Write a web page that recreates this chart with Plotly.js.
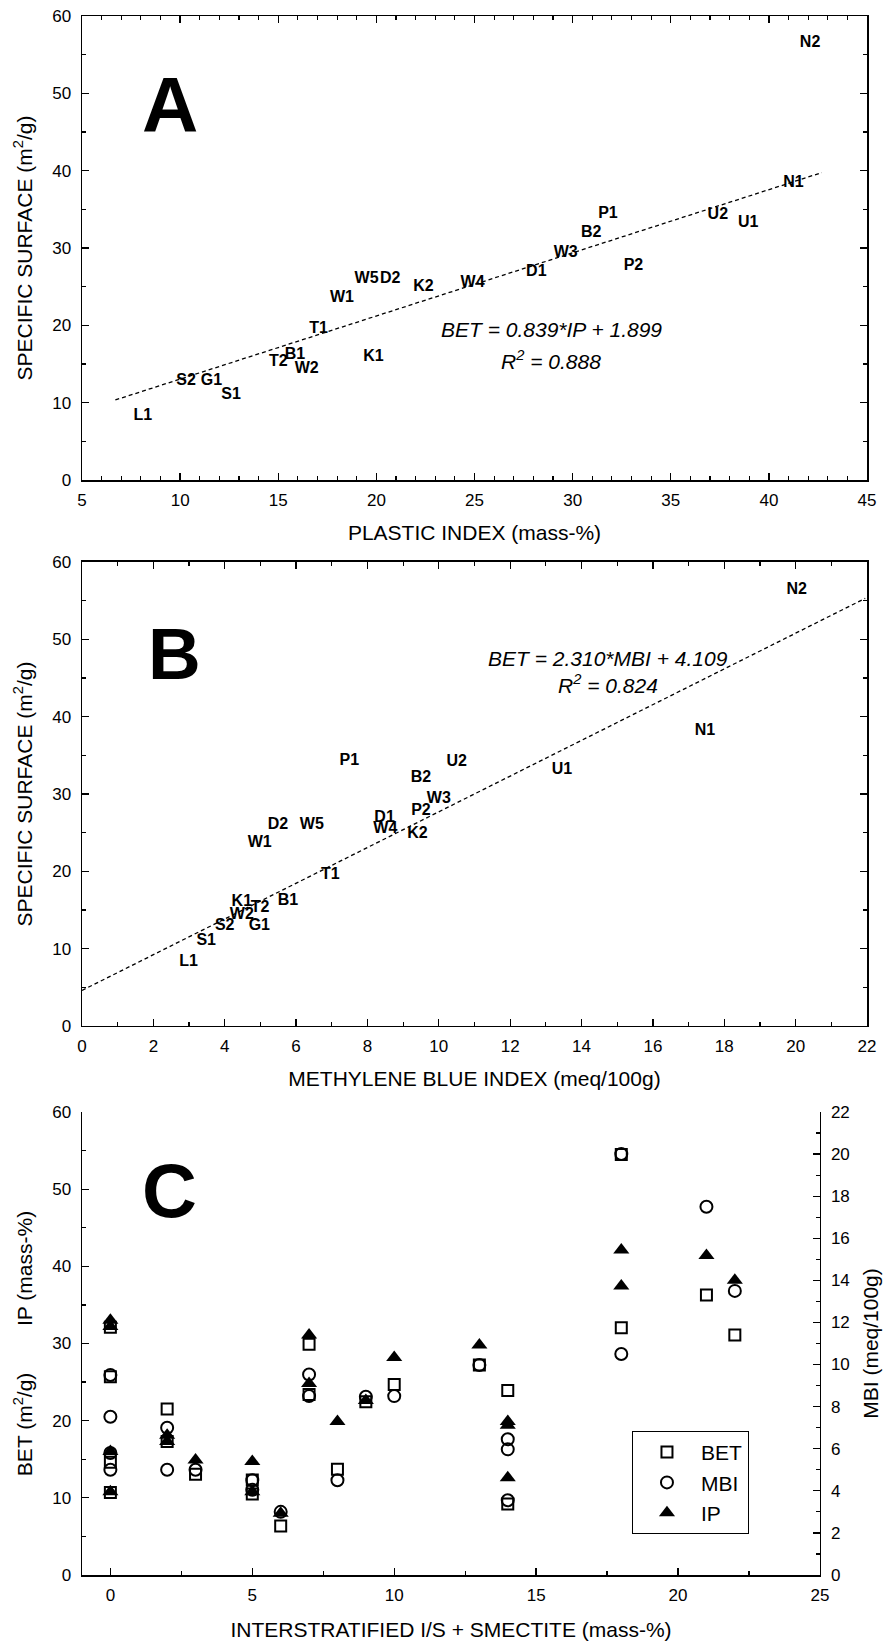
<!DOCTYPE html>
<html>
<head>
<meta charset="utf-8">
<script src="https://cdn.plot.ly/plotly-3.0.1.min.js"></script>
<style>html,body{margin:0;padding:0;background:#fff;}</style>
</head>
<body>
<div id="chart" style="width:887px;height:1641px;"></div>
<script>
// ---------- Panel A: specific surface vs plastic index ----------
var labelsA = ['L1','S2','G1','S1','T2','B1','W2','T1','W1','W5','D2','K1','K2','W4','D1','W3','B2','P1','P2','U2','U1','N1','N2'];
var ipA  = [8.1, 10.3, 11.6, 12.6, 15.0, 15.85, 16.45, 17.05, 18.25, 19.5, 20.7, 19.85, 22.4, 24.9, 28.15, 29.65, 30.95, 31.8, 33.1, 37.4, 38.95, 41.25, 42.1];
var betA = [8.3, 12.8, 12.8, 11.0, 15.3, 16.2, 14.4, 19.5, 23.6, 26.0, 26.0, 15.9, 24.9, 25.5, 26.9, 29.3, 32.0, 34.4, 27.7, 34.3, 33.2, 38.4, 56.5];
var fitA_x = [6.7, 42.7];
var fitA_y = [10.35, 39.75];

// ---------- Panel B: specific surface vs methylene blue index ----------
var labelsB = ['L1','S2','G1','S1','T2','B1','W2','T1','W1','W5','D2','K1','K2','W4','D1','W3','B2','P1','P2','U2','U1','N1','N2'];
var mbiB = [2.99, 4.0, 4.97, 3.48, 4.99, 5.77, 4.48, 6.96, 4.98, 6.44, 5.49, 4.48, 9.4, 8.5, 8.48, 10.0, 9.5, 7.49, 9.5, 10.5, 13.45, 17.46, 20.03];
var betB = [8.33, 12.9, 12.9, 11.05, 15.2, 16.1, 14.4, 19.5, 23.7, 26.0, 26.0, 16.0, 24.8, 25.5, 26.9, 29.4, 32.1, 34.3, 27.8, 34.2, 33.1, 38.1, 56.4];
var fitB_x = [0, 21.95];
var fitB_y = [4.6, 55.3];

// ---------- Panel C: vs interstratified I/S + smectite ----------
var xBET = [0,0,0,0,2,2,3,5,5,6,7,7,8,9,10,13,14,14,18,18,21,22];
var yBET = [32.1,25.7,14.6,10.7,21.5,17.3,13.05,12.3,10.5,6.35,29.9,23.4,13.7,22.45,24.7,27.2,23.9,9.2,54.5,32.05,36.3,31.1];
var xMBI = [0,0,0,0,2,2,3,5,5,6,7,7,8,9,10,13,14,14,14,18,18,21,22];
var yMBI = [9.5,7.52,5.8,5.0,7.0,5.0,5.0,4.5,4.05,3.0,9.53,8.5,4.5,8.47,8.5,9.98,6.45,5.97,3.55,20.0,10.5,17.5,13.5];
var xIP  = [0,0,0,0,2,2,3,5,5,6,7,7,8,9,10,13,14,14,14,18,18,21,22];
var yIP  = [33.0,32.2,16.0,10.8,18.1,17.3,14.9,14.7,10.8,8.0,31.1,24.8,19.9,22.6,28.2,29.8,19.9,19.4,12.6,42.1,37.45,41.4,38.2];

var FONT = 'Liberation Sans, Arial, Helvetica, sans-serif';
var labelFont = {family: FONT, size: 16, color: '#000', weight: 'bold'};

var traces = [
  {x: fitA_x, y: fitA_y, xaxis: 'x', yaxis: 'y', mode: 'lines', showlegend: false, hoverinfo: 'skip',
   line: {color: '#000', width: 1.3, dash: '4px,3px'}},
  {x: ipA, y: betA, text: labelsA, xaxis: 'x', yaxis: 'y', mode: 'text', textposition: 'middle center',
   textfont: labelFont, showlegend: false},
  {x: fitB_x, y: fitB_y, xaxis: 'x2', yaxis: 'y2', mode: 'lines', showlegend: false, hoverinfo: 'skip',
   line: {color: '#000', width: 1.3, dash: '4px,3px'}},
  {x: mbiB, y: betB, text: labelsB, xaxis: 'x2', yaxis: 'y2', mode: 'text', textposition: 'middle center',
   textfont: labelFont, showlegend: false},
  {x: xBET, y: yBET, name: 'BET', xaxis: 'x3', yaxis: 'y3', mode: 'markers',
   marker: {symbol: 'square-open', size: 11, color: '#000', line: {color: '#000', width: 2}}},
  {x: xMBI, y: yMBI, name: 'MBI', xaxis: 'x3', yaxis: 'y4', mode: 'markers',
   marker: {symbol: 'circle-open', size: 12, color: '#000', line: {color: '#000', width: 2}}},
  {x: xIP, y: yIP, name: 'IP', xaxis: 'x3', yaxis: 'y3', mode: 'markers',
   marker: {symbol: 'triangle-up', size: 14, color: '#000', line: {width: 0}}}
];

function axisBase(extra) {
  var a = {
    showline: true, linecolor: '#000', linewidth: 1.5,
    ticks: 'inside', ticklen: 7, tickwidth: 1.3, tickcolor: '#000',
    showgrid: false, zeroline: false,
    tickfont: {family: FONT, size: 17, color: '#000'},
    fixedrange: true
  };
  for (var k in extra) a[k] = extra[k];
  return a;
}
function minor(d) { return {ticks: 'inside', ticklen: 4, dtick: d, tickwidth: 1.2, tickcolor: '#000', showgrid: false}; }
var titleFont = {family: FONT, size: 21, color: '#000'};

var layout = {
  width: 887, height: 1641,
  margin: {l: 82, r: 20, t: 16, b: 66},
  paper_bgcolor: '#fff', plot_bgcolor: '#fff',
  font: {family: FONT, color: '#000'},
  showlegend: true,
  legend: {
    x: 0.7006, y: 0.0924, xanchor: 'left', yanchor: 'top',
    bordercolor: '#000', borderwidth: 1, bgcolor: '#fff',
    font: {family: FONT, size: 21, color: '#000'},
    itemwidth: 58
  },
  xaxis: axisBase({domain: [0, 1], anchor: 'y', range: [5, 45], tick0: 5, dtick: 5, mirror: 'ticks',
    minor: minor(1), ticklabelstandoff: 4,
    title: {text: 'PLASTIC INDEX (mass-%)', font: titleFont, standoff: 16}}),
  yaxis: axisBase({domain: [0.70237, 1], anchor: 'x', range: [0, 60], tick0: 0, dtick: 10, mirror: 'ticks',
    minor: minor(5), ticklabelstandoff: 6,
    title: {text: 'SPECIFIC SURFACE (m<sup>2</sup>/g)', font: titleFont, standoff: 14}}),
  xaxis2: axisBase({domain: [0, 1], anchor: 'y2', range: [0, 22], tick0: 0, dtick: 2, mirror: 'ticks',
    minor: minor(1), ticklabelstandoff: 4,
    title: {text: 'METHYLENE BLUE INDEX (meq/100g)', font: titleFont, standoff: 16}}),
  yaxis2: axisBase({domain: [0.35215, 0.64978], anchor: 'x2', range: [0, 60], tick0: 0, dtick: 10, mirror: 'ticks',
    minor: minor(5), ticklabelstandoff: 6,
    title: {text: 'SPECIFIC SURFACE (m<sup>2</sup>/g)', font: titleFont, standoff: 14}}),
  xaxis3: axisBase({domain: [0, 0.9401], anchor: 'y3', range: [-1, 25], tick0: 0, dtick: 5,
    minor: minor(2.5), ticklabelstandoff: 4,
    title: {text: 'INTERSTRATIFIED I/S + SMECTITE (mass-%)', font: titleFont, standoff: 18}}),
  xaxis4: axisBase({overlaying: 'x3', anchor: 'y3', side: 'top', range: [0, 25], tick0: 0, dtick: 5,
    minor: minor(2.5), showticklabels: false}),
  yaxis3: axisBase({domain: [0, 0.29699], anchor: 'x3', range: [0, 60], tick0: 0, dtick: 10,
    minor: minor(5), ticklabelstandoff: 6,
    title: {text: 'BET (m<sup>2</sup>/g)\u00a0\u00a0\u00a0\u00a0\u00a0\u00a0\u00a0\u00a0IP (mass-%)', font: titleFont, standoff: 14}}),
  yaxis4: axisBase({overlaying: 'y3', anchor: 'x3', side: 'right', range: [0, 22], tick0: 0, dtick: 2,
    minor: minor(1), ticklabelstandoff: 6,
    title: {text: 'MBI (meq/100g)', font: titleFont, standoff: 14}}),
  annotations: [
    {xref: 'x domain', yref: 'y domain', x: 0.1115, y: 0.808, text: 'A', showarrow: false,
     font: {family: FONT, size: 78, color: '#000', weight: 'bold'}, xanchor: 'center', yanchor: 'middle'},
    {xref: 'x2 domain', yref: 'y2 domain', x: 0.118, y: 0.803, text: 'B', showarrow: false,
     font: {family: FONT, size: 73, color: '#000', weight: 'bold'}, xanchor: 'center', yanchor: 'middle'},
    {xref: 'x3 domain', yref: 'y3 domain', x: 0.119, y: 0.8315, text: 'C', showarrow: false,
     font: {family: FONT, size: 76, color: '#000', weight: 'bold'}, xanchor: 'center', yanchor: 'middle'},
    {xref: 'x', yref: 'y', x: 28.9, y: 19.4, text: '<i>BET = 0.839*IP + 1.899</i>', showarrow: false,
     font: {family: FONT, size: 21, color: '#000'}, xanchor: 'center', yanchor: 'middle'},
    {xref: 'x', yref: 'y', x: 28.9, y: 15.5, text: '<i>R<sup>2</sup> = 0.888</i>', showarrow: false,
     font: {family: FONT, size: 21, color: '#000'}, xanchor: 'center', yanchor: 'middle'},
    {xref: 'x2', yref: 'y2', x: 14.75, y: 47.5, text: '<i>BET = 2.310*MBI + 4.109</i>', showarrow: false,
     font: {family: FONT, size: 21, color: '#000'}, xanchor: 'center', yanchor: 'middle'},
    {xref: 'x2', yref: 'y2', x: 14.75, y: 44.2, text: '<i>R<sup>2</sup> = 0.824</i>', showarrow: false,
     font: {family: FONT, size: 21, color: '#000'}, xanchor: 'center', yanchor: 'middle'}
  ]
};

Plotly.newPlot('chart', traces, layout, {staticPlot: true, displayModeBar: false});
</script>
</body>
</html>
